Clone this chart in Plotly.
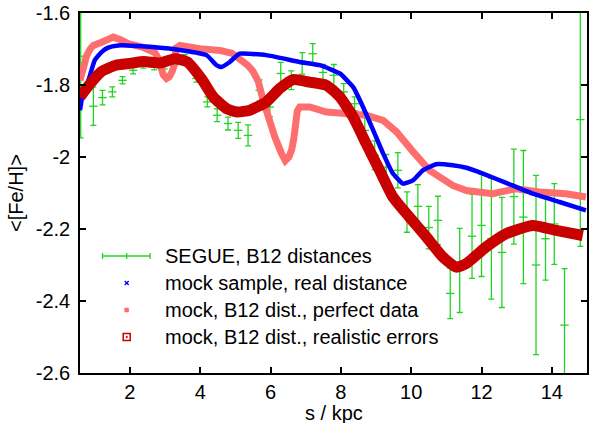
import plotly.graph_objects as go

# ---------------- data ----------------
segue_s = [0.60, 0.96, 1.22, 1.50, 1.79, 2.09, 2.38, 2.69, 2.99, 3.28, 3.56, 3.89,
           4.20, 4.48, 4.79, 5.08, 5.36, 5.69, 5.98, 6.29, 6.59, 6.90, 7.20, 7.49,
           7.80, 8.08, 8.39, 8.68, 8.96, 9.29, 9.62, 9.88, 10.19, 10.50, 10.76,
           11.11, 11.38, 11.73, 12.00, 12.28, 12.58, 12.92, 13.19, 13.55, 13.82,
           14.07, 14.36, 14.81]
segue_feh = [-1.720, -1.859, -1.835, -1.819, -1.787, -1.759, -1.745, -1.750, -1.745,
             -1.735, -1.728, -1.782, -1.847, -1.884, -1.907, -1.926, -1.940, -1.815,
             -1.861, -1.768, -1.787, -1.740, -1.713, -1.765, -1.773, -1.819, -1.852,
             -1.926, -1.995, -2.028, -2.037, -2.153, -2.137, -2.196, -2.176, -2.379,
             -2.315, -2.220, -2.190, -2.227, -2.265, -2.110, -2.167, -2.300, -2.227,
             -2.186, -2.467, -1.896]
segue_err = [0.227, 0.053, 0.020, 0.014, 0.010, 0.010, 0.008, 0.008, 0.010, 0.010,
             0.012, 0.010, 0.014, 0.018, 0.018, 0.022, 0.029, 0.029, 0.027, 0.031,
             0.026, 0.030, 0.028, 0.022, 0.030, 0.023, 0.019, 0.042, 0.040, 0.035,
             0.049, 0.056, 0.060, 0.059, 0.067, 0.070, 0.117, 0.117, 0.142, 0.168,
             0.153, 0.132, 0.185, 0.249, 0.115, 0.112, 0.157, 0.352]

real_s = [0.58, 0.67, 0.82, 1.00, 1.20, 1.38, 1.67, 1.90, 2.57, 3.51, 4.18, 4.46,
          4.60, 4.84, 5.12, 5.88, 6.83, 7.40, 7.97, 8.35, 8.63, 8.92, 9.20, 9.48,
          9.77, 10.05, 10.33, 10.71, 11.18, 11.57, 12.04, 12.70, 13.46, 14.22, 14.97]
real_feh = [-1.870, -1.820, -1.787, -1.731, -1.708, -1.696, -1.690, -1.690, -1.694,
            -1.704, -1.717, -1.745, -1.750, -1.736, -1.713, -1.717, -1.736, -1.745,
            -1.768, -1.806, -1.861, -1.926, -1.990, -2.046, -2.074, -2.065, -2.037,
            -2.020, -2.023, -2.030, -2.046, -2.072, -2.102, -2.125, -2.148]

perfect_s = [0.58, 0.68, 0.77, 0.87, 0.96, 1.15, 1.34, 1.53, 1.75, 1.95, 2.33, 2.60,
             2.71, 2.80, 2.88, 2.95, 3.04, 3.12, 3.20, 3.26, 3.31, 3.42, 3.99, 4.56,
             4.90, 5.12, 5.35, 5.50, 5.65, 5.79, 5.93, 6.12, 6.31, 6.42, 6.52, 6.60,
             6.66, 6.71, 6.76, 6.83, 7.11, 7.59, 7.97, 8.72, 9.20, 9.58, 10.05, 10.52,
             11.18, 11.57, 12.32, 12.99, 13.65, 14.40, 14.97]
perfect_feh = [-1.787, -1.745, -1.718, -1.700, -1.690, -1.683, -1.676, -1.667, -1.675,
               -1.685, -1.694, -1.703, -1.710, -1.725, -1.750, -1.772, -1.782, -1.777,
               -1.763, -1.745, -1.697, -1.690, -1.699, -1.704, -1.712, -1.727, -1.745,
               -1.762, -1.790, -1.843, -1.889, -1.944, -1.990, -2.010, -2.000, -1.980,
               -1.950, -1.905, -1.872, -1.861, -1.861, -1.875, -1.879, -1.884, -1.898,
               -1.930, -1.985, -2.037, -2.079, -2.093, -2.102, -2.088, -2.097, -2.102,
               -2.111]

realistic_s = [0.58, 0.88, 1.20, 1.60, 2.00, 2.40, 2.85, 3.28, 3.63, 4.05, 4.37, 4.75,
               5.05, 5.41, 5.88, 6.26, 6.64, 7.11, 7.59, 7.97, 8.35, 8.72, 9.10, 9.48,
               9.95, 10.43, 10.90, 11.28, 11.57, 12.13, 12.70, 13.46, 14.12, 14.88]
realistic_feh = [-1.833, -1.795, -1.762, -1.745, -1.740, -1.735, -1.739, -1.727, -1.736,
                 -1.785, -1.833, -1.866, -1.875, -1.870, -1.847, -1.810, -1.785, -1.792,
                 -1.801, -1.833, -1.889, -1.963, -2.037, -2.111, -2.167, -2.222, -2.278,
                 -2.306, -2.296, -2.250, -2.213, -2.190, -2.204, -2.218]

legend_labels = ["SEGUE, B12 distances", "mock sample, real distance",
                 "mock, B12 dist., perfect data", "mock, B12 dist., realistic errors"]

x_ticks = [2, 4, 6, 8, 10, 12, 14]
y_ticks = [-2.6, -2.4, -2.2, -2.0, -1.8, -1.6]
y_ticktext = ["-2.6", "-2.4", "-2.2", "-2", "-1.8", "-1.6"]

GREEN = "#22d422"
BLUE = "#0000ff"
PINK = "#ff6e6e"
DARKRED = "#c80000"
FONT = "Liberation Sans, Arial, sans-serif"

fig = go.Figure()

fig.add_trace(go.Scatter(
    x=segue_s, y=segue_feh, mode="markers", showlegend=False,
    marker=dict(symbol="line-ew", size=6, line=dict(color=GREEN, width=1.3), color=GREEN),
    error_y=dict(type="data", array=segue_err, symmetric=True, color=GREEN,
                 thickness=1.3, width=3)))

fig.add_trace(go.Scatter(
    x=perfect_s, y=perfect_feh, mode="lines", showlegend=False,
    line=dict(color=PINK, width=7)))

fig.add_trace(go.Scatter(
    x=real_s, y=real_feh, mode="lines", showlegend=False,
    line=dict(color=BLUE, width=4.5, shape="spline", smoothing=0.4)))

fig.add_trace(go.Scatter(
    x=realistic_s, y=realistic_feh, mode="lines", showlegend=False,
    line=dict(color=DARKRED, width=11, shape="spline", smoothing=0.5)))

# ------------- layout -------------
L, R, T, B = 80, 11, 13, 50
W, H = 598, 423
PW, PH = W - L - R, H - T - B


def px(xp):
    return (xp - L) / PW


def py(yp):
    return (H - B - yp) / PH


fig.update_layout(
    width=W, height=H,
    margin=dict(l=L, r=R, t=T, b=B),
    paper_bgcolor="white", plot_bgcolor="white",
    font=dict(family=FONT, size=20, color="black"),
    showlegend=False,
    xaxis=dict(range=[0.58, 15], tickvals=x_ticks, ticktext=[str(v) for v in x_ticks],
               ticks="inside", ticklen=6, tickwidth=1.5, tickcolor="black",
               showline=True, linecolor="black", linewidth=1.5, mirror="ticks",
               showgrid=False, zeroline=False, automargin=False),
    yaxis=dict(range=[-2.6, -1.6], tickvals=y_ticks, ticktext=y_ticktext,
               ticks="inside", ticklen=6, tickwidth=1.5, tickcolor="black",
               showline=True, linecolor="black", linewidth=1.5, mirror="ticks",
               showgrid=False, zeroline=False, automargin=False, ticklabelstandoff=4),
)

annotations = [
    dict(text="s / kpc", x=0.5, y=py(413), xref="paper", yref="paper",
         xanchor="center", yanchor="middle", showarrow=False, borderpad=0,
         font=dict(size=20)),
    dict(text="&lt;[Fe/H]&gt;", x=px(16), y=0.5, xref="paper", yref="paper",
         xanchor="center", yanchor="middle", textangle=-90, showarrow=False,
         font=dict(size=20)),
]
leg_y = [256, 283, 310, 337]
for lab, yy in zip(legend_labels, leg_y):
    annotations.append(dict(text=lab, x=px(163), y=py(yy), xref="paper", yref="paper",
                            xanchor="left", yanchor="middle", showarrow=False,
                            font=dict(size=20)))
fig.update_layout(annotations=annotations)

# legend symbols (paper coordinates)
cx = 126.7
shapes = []
ys = leg_y[0]
shapes.append(dict(type="line", xref="paper", yref="paper", x0=px(102.5), x1=px(150),
                   y0=py(ys), y1=py(ys), line=dict(color=GREEN, width=1.3)))
for xx in (102.5, cx, 150):
    shapes.append(dict(type="line", xref="paper", yref="paper", x0=px(xx), x1=px(xx),
                       y0=py(ys - 3), y1=py(ys + 3), line=dict(color=GREEN, width=1.3)))
ys = leg_y[1]
for d in (1, -1):
    shapes.append(dict(type="line", xref="paper", yref="paper", x0=px(cx - 2), x1=px(cx + 2),
                       y0=py(ys - 2 * d), y1=py(ys + 2 * d), line=dict(color=BLUE, width=1.3)))
ys = leg_y[2]
shapes.append(dict(type="rect", xref="paper", yref="paper", x0=px(cx - 2), x1=px(cx + 2),
                   y0=py(ys - 2), y1=py(ys + 2), line=dict(color=PINK, width=0.5),
                   fillcolor=PINK))
ys = leg_y[3]
shapes.append(dict(type="rect", xref="paper", yref="paper", x0=px(cx - 3.5), x1=px(cx + 3.5),
                   y0=py(ys - 3.5), y1=py(ys + 3.5), line=dict(color=DARKRED, width=1.5),
                   fillcolor="rgba(0,0,0,0)"))
shapes.append(dict(type="rect", xref="paper", yref="paper", x0=px(cx - 0.7), x1=px(cx + 0.7),
                   y0=py(ys - 0.7), y1=py(ys + 0.7), line=dict(color=DARKRED, width=0.5),
                   fillcolor=DARKRED))
fig.update_layout(shapes=shapes)

fig.write_html("out.html", config={"displayModeBar": False},
               post_script="document.body.style.margin='0px';")
